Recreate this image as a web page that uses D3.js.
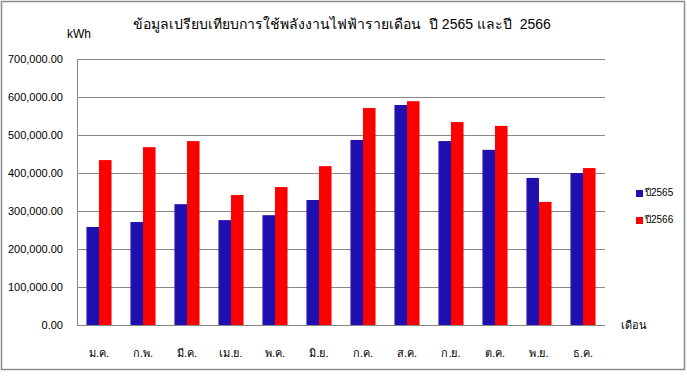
<!DOCTYPE html>
<html>
<head>
<meta charset="utf-8">
<script src="https://cdn.jsdelivr.net/npm/d3@7"></script>
<style>
  body { margin: 0; background: #fff; }
  text { font-family: Tahoma, "Liberation Sans", "Noto Sans", sans-serif; fill: #000; }
</style>
</head>
<body>
<div id="chart"></div>
<script>
const months = ['ม.ค.', 'ก.พ.', 'มี.ค.', 'เม.ย.', 'พ.ค.', 'มิ.ย.', 'ก.ค.', 'ส.ค.', 'ก.ย.', 'ต.ค.', 'พ.ย.', 'ธ.ค.'];
const series = ['ปี2565', 'ปี2566'];
const values2565 = [258000, 271000, 318000, 276000, 289000, 329000, 487000, 579000, 484000, 461000, 387000, 400000];
const values2566 = [434000, 468000, 484000, 342000, 363000, 418000, 571000, 589000, 534000, 524000, 324000, 413000];
const yTicks = [0, 100000, 200000, 300000, 400000, 500000, 600000, 700000];
const colors = ['#2010b0', '#ff0000'];

const width = 687;
const height = 377;
const margin = { top: 59, right: 82, bottom: 52, left: 77 };
const plotW = width - margin.left - margin.right;
const plotH = height - margin.top - margin.bottom;

const svg = d3.select('#chart').append('svg')
  .attr('width', width)
  .attr('height', height);

// outer chart border
svg.append('rect')
  .attr('x', 1.5).attr('y', 1.5)
  .attr('width', 683).attr('height', 368)
  .attr('fill', 'none')
  .attr('stroke', '#8c8c8c')
  .attr('stroke-width', 1.5);

const g = svg.append('g')
  .attr('transform', `translate(${margin.left},${margin.top})`);

const x = d3.scaleBand()
  .domain(months)
  .range([0, plotW])
  .paddingInner(0.43)
  .paddingOuter(0.215);

const xSub = d3.scaleBand()
  .domain(series)
  .range([0, x.bandwidth()]);

const y = d3.scaleLinear()
  .domain([0, 700000])
  .range([plotH, 0]);

// gridlines
g.append('g')
  .selectAll('line')
  .data(yTicks.slice(1))
  .join('line')
  .attr('x1', 0).attr('x2', plotW)
  .attr('y1', d => Math.round(y(d)) + 0.5)
  .attr('y2', d => Math.round(y(d)) + 0.5)
  .attr('stroke', '#888')
  .attr('stroke-width', 1);

// y axis
const yAxis = g.append('g')
  .call(d3.axisLeft(y).tickValues(yTicks).tickSize(0).tickPadding(14)
    .tickFormat(d => d3.format(',.2f')(d)));
yAxis.select('.domain').remove();
yAxis.selectAll('text').style('font-size', '11px');

// bars
const data = months.map((m, i) => ({ month: m, vals: [values2565[i], values2566[i]] }));
g.append('g')
  .selectAll('g')
  .data(data)
  .join('g')
  .attr('transform', d => `translate(${x(d.month)},0)`)
  .selectAll('rect')
  .data(d => d.vals.map((v, j) => ({ key: series[j], v, j })))
  .join('rect')
  .attr('x', d => xSub(d.key))
  .attr('y', d => y(d.v))
  .attr('width', xSub.bandwidth())
  .attr('height', d => plotH - y(d.v))
  .attr('fill', d => colors[d.j]);

// axis lines
g.append('line')
  .attr('x1', 0.5).attr('x2', 0.5)
  .attr('y1', 0).attr('y2', plotH)
  .attr('stroke', '#888');
g.append('line')
  .attr('x1', 0).attr('x2', plotW)
  .attr('y1', plotH + 0.5).attr('y2', plotH + 0.5)
  .attr('stroke', '#888');

// x labels
g.append('g')
  .selectAll('text')
  .data(months)
  .join('text')
  .attr('x', d => x(d) + x.bandwidth() / 2)
  .attr('y', plotH + 32)
  .attr('text-anchor', 'middle')
  .style('font-size', '11px')
  .text(d => d);

// axis titles
svg.append('text')
  .attr('x', 67).attr('y', 38)
  .style('font-size', '12px')
  .text('kWh');

svg.append('text')
  .attr('x', 621).attr('y', 329)
  .style('font-size', '11px')
  .text('เดือน');

// title
svg.append('text')
  .attr('x', 342).attr('y', 29)
  .attr('text-anchor', 'middle')
  .style('font-size', '14px')
  .style('white-space', 'pre')
  .text('ข้อมูลเปรียบเทียบการใช้พลังงานไฟฟ้ารายเดือน  ปี 2565 และปี  2566');

// legend
const legend = svg.append('g')
  .selectAll('g')
  .data(series)
  .join('g')
  .attr('transform', (d, i) => `translate(636,${190 + i * 27})`);
legend.append('rect')
  .attr('width', 7).attr('height', 7)
  .attr('fill', (d, i) => colors[i]);
legend.append('text')
  .attr('x', 9).attr('y', 6)
  .style('font-size', '10px')
  .text(d => d);
</script>
</body>
</html>
